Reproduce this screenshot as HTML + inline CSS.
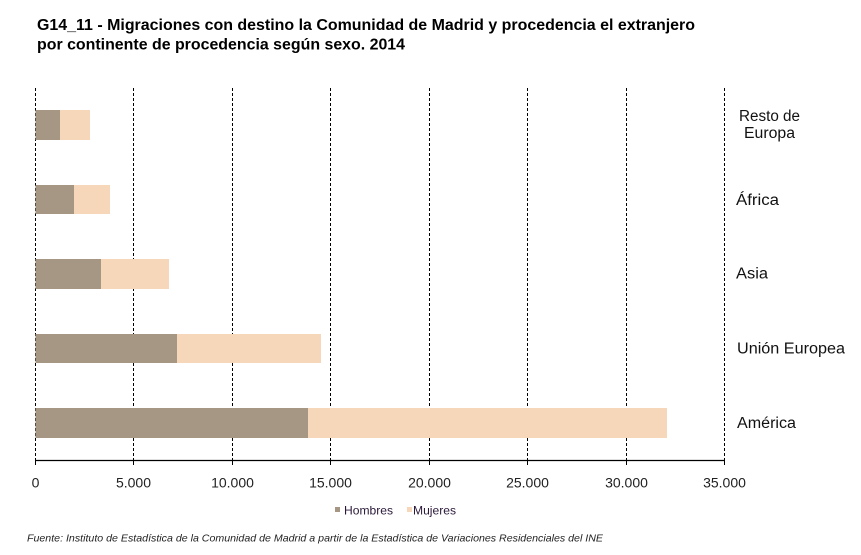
<!DOCTYPE html>
<html><head><meta charset="utf-8"><style>
html,body{margin:0;padding:0;background:#fff;}
svg{display:block;}
text{font-family:"Liberation Sans",Arial,sans-serif;}
</style></head><body>
<svg width="861" height="555" viewBox="0 0 861 555" xmlns="http://www.w3.org/2000/svg">
<rect width="861" height="555" fill="#fff"/>
<text x="37" y="30" font-size="16" font-weight="bold" fill="#000" textLength="658" lengthAdjust="spacingAndGlyphs">G14_11 - Migraciones con destino la Comunidad de Madrid y procedencia el extranjero</text>
<text x="37" y="49.5" font-size="16" font-weight="bold" fill="#000" textLength="368" lengthAdjust="spacingAndGlyphs">por continente de procedencia según sexo. 2014</text>
<g stroke="#000" stroke-width="1" stroke-dasharray="3,2">
<line x1="35.5" y1="88" x2="35.5" y2="460"/>
<line x1="133.5" y1="88" x2="133.5" y2="460"/>
<line x1="232.5" y1="88" x2="232.5" y2="460"/>
<line x1="330.5" y1="88" x2="330.5" y2="460"/>
<line x1="429.5" y1="88" x2="429.5" y2="460"/>
<line x1="527.5" y1="88" x2="527.5" y2="460"/>
<line x1="626.5" y1="88" x2="626.5" y2="460"/>
<line x1="724.5" y1="88" x2="724.5" y2="460"/>
</g>
<g fill="#A69785">
<rect x="35.5" y="110" width="24.5" height="30"/>
<rect x="35.5" y="185" width="38.5" height="29"/>
<rect x="35.5" y="259" width="65.5" height="30"/>
<rect x="35.5" y="334" width="141.5" height="29"/>
<rect x="35.5" y="408" width="272.5" height="30"/>
</g>
<g fill="#F7D7B9">
<rect x="60" y="110" width="30" height="30"/>
<rect x="74" y="185" width="36" height="29"/>
<rect x="101" y="259" width="68" height="30"/>
<rect x="177" y="334" width="144" height="29"/>
<rect x="308" y="408" width="359" height="30"/>
</g>
<line x1="35" y1="460.5" x2="725" y2="460.5" stroke="#000" stroke-width="1.2"/>
<g stroke="#000" stroke-width="1">
<line x1="35.5" y1="460" x2="35.5" y2="465"/>
<line x1="133.5" y1="460" x2="133.5" y2="465"/>
<line x1="232.5" y1="460" x2="232.5" y2="465"/>
<line x1="330.5" y1="460" x2="330.5" y2="465"/>
<line x1="429.5" y1="460" x2="429.5" y2="465"/>
<line x1="527.5" y1="460" x2="527.5" y2="465"/>
<line x1="626.5" y1="460" x2="626.5" y2="465"/>
<line x1="724.5" y1="460" x2="724.5" y2="465"/>
</g>
<g font-size="14" fill="#222" text-anchor="middle">
<text x="35.5" y="487.5">0</text>
<text x="133.5" y="487.5">5.000</text>
<text x="232.5" y="487.5">10.000</text>
<text x="330.5" y="487.5">15.000</text>
<text x="429.5" y="487.5">20.000</text>
<text x="527.5" y="487.5">25.000</text>
<text x="626.5" y="487.5">30.000</text>
<text x="724.5" y="487.5">35.000</text>
</g>
<g font-size="15.5" fill="#111">
<text x="739" y="121" textLength="61" lengthAdjust="spacingAndGlyphs">Resto de</text>
<text x="744" y="138" textLength="51" lengthAdjust="spacingAndGlyphs">Europa</text>
<text x="736" y="205" textLength="43" lengthAdjust="spacingAndGlyphs">África</text>
<text x="736" y="278.5" textLength="32" lengthAdjust="spacingAndGlyphs">Asia</text>
<text x="737" y="353.5" textLength="108" lengthAdjust="spacingAndGlyphs">Unión Europea</text>
<text x="737" y="428" textLength="59" lengthAdjust="spacingAndGlyphs">América</text>
</g>
<rect x="335" y="507" width="5" height="5" fill="#A69785"/>
<text x="344" y="514.5" font-size="12" fill="#2a1838" textLength="49" lengthAdjust="spacingAndGlyphs">Hombres</text>
<rect x="407" y="507" width="5" height="5" fill="#F7D7B9"/>
<text x="413" y="514.5" font-size="12" fill="#2a1838" textLength="43" lengthAdjust="spacingAndGlyphs">Mujeres</text>
<text x="27" y="541.5" font-size="10.5" font-style="italic" fill="#222" textLength="576" lengthAdjust="spacingAndGlyphs">Fuente: Instituto de Estadística de la Comunidad de Madrid a partir de la Estadística de Variaciones Residenciales del INE</text>
</svg>
</body></html>
